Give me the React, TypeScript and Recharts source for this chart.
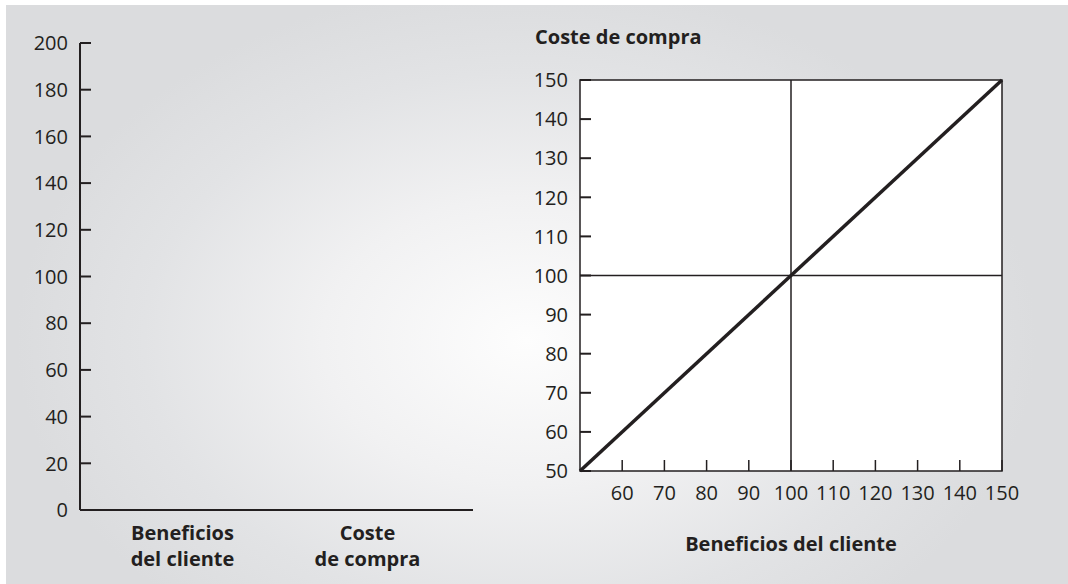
import React from 'react';
import {
    BarChart,
    Bar,
    LineChart,
    Line,
    XAxis,
    YAxis,
    CartesianGrid,
    ReferenceArea,
    ReferenceLine
} from 'recharts';

// left panel: empty bar chart
const barCategories = ['Beneficios del cliente', 'Coste de compra'];
const barCategoryLines = [['Beneficios', 'del cliente'], ['Coste', 'de compra']];
const barValues = [0, 0];
const barTicks = [0, 20, 40, 60, 80, 100, 120, 140, 160, 180, 200];

// right panel: cost vs. benefit line
const benefitValues = [50, 100, 150];
const costValues = [50, 100, 150];
const costTicks = [50, 60, 70, 80, 90, 100, 110, 120, 130, 140, 150];
const benefitTicks = [60, 70, 80, 90, 100, 110, 120, 130, 140, 150];

const INK = '#231f20';
const FONT = '"Open Sans", "Noto Sans", sans-serif';
const TICK_MARGIN = 12;
const TICK_LEN = 11;

const barData = barCategories.map((name, i) => ({ name, value: barValues[i] }));
const lineData = benefitValues.map((b, i) => ({ benefit: b, cost: costValues[i] }));

const LeftTick = (props: any) => {
    const { x, y, payload } = props;
    const ax = x + TICK_MARGIN;
    return (
        <g>
            <line x1={ax} x2={ax + TICK_LEN} y1={y} y2={y} stroke={INK} strokeWidth={2} />
            <text x={x} y={y} dy="0.36em" textAnchor="end" fill={INK} fontSize={20} fontWeight={500} fontFamily={FONT}>
                {payload.value}
            </text>
        </g>
    );
};

const CategoryTick = (props: any) => {
    const { x, y, index } = props;
    const lines = barCategoryLines[index] || [];
    return (
        <text x={x} y={y} textAnchor="middle" fill={INK} fontSize={20} fontWeight={700} fontFamily={FONT}>
            {lines.map((l, i) => (
                <tspan key={i} x={x} dy={i === 0 ? 30 : 26}>{l}</tspan>
            ))}
        </text>
    );
};

const BottomTick = (props: any) => {
    const { x, y, payload } = props;
    const ay = y - 15;
    return (
        <g>
            <line x1={x} x2={x} y1={ay} y2={ay - TICK_LEN} stroke={INK} strokeWidth={1.5} />
            <text x={x} y={y} dy="0.71em" textAnchor="middle" fill={INK} fontSize={20} fontWeight={500} fontFamily={FONT}>
                {payload.value}
            </text>
        </g>
    );
};

export default function App() {
    return (
        <div style={{ position: 'absolute', left: 0, top: 0, width: 1068, height: 584, background: '#fff', fontFamily: FONT }}>
            <div
                style={{
                    position: 'absolute',
                    left: 6,
                    top: 5,
                    width: 1062,
                    height: 579,
                    background: 'radial-gradient(ellipse 48% 62% at 49% 58%, #fdfdfd 0%, #f1f1f2 40%, #e2e3e5 75%, #dbdcde 100%)'
                }}
            />

            {/* left chart */}
            <div style={{ position: 'absolute', left: 0, top: 0 }}>
                <BarChart width={540} height={584} data={barData} margin={{ top: 43, right: 67, bottom: 0, left: 0 }}>
                    <XAxis
                        dataKey="name"
                        height={74}
                        axisLine={{ stroke: INK, strokeWidth: 2 }}
                        tickLine={false}
                        tickSize={0}
                        tickMargin={0}
                        padding={{ left: 10, right: 13 }}
                        interval={0}
                        tick={<CategoryTick />}
                    />
                    <YAxis
                        type="number"
                        width={80}
                        domain={[0, 200]}
                        allowDataOverflow
                        ticks={barTicks}
                        interval={0}
                        axisLine={{ stroke: INK, strokeWidth: 2 }}
                        tickLine={false}
                        tickSize={0}
                        tickMargin={TICK_MARGIN}
                        tick={<LeftTick />}
                    />
                    <Bar dataKey="value" fill={INK} isAnimationActive={false} />
                </BarChart>
            </div>

            {/* right chart */}
            <div
                style={{
                    position: 'absolute',
                    left: 535,
                    top: 23,
                    fontSize: 20,
                    lineHeight: '28px',
                    fontWeight: 700,
                    color: INK
                }}
            >
                Coste de compra
            </div>
            <div style={{ position: 'absolute', left: 500, top: 0 }}>
                <LineChart width={568} height={584} data={lineData} margin={{ top: 80, right: 66, bottom: 0, left: 0 }}>
                    <CartesianGrid horizontal={false} vertical={false} fill="#ffffff" />
                    <XAxis
                        type="number"
                        dataKey="benefit"
                        domain={[50, 150]}
                        ticks={benefitTicks}
                        interval={0}
                        height={113}
                        axisLine={false}
                        tickLine={false}
                        tickSize={0}
                        tickMargin={15}
                        tick={<BottomTick />}
                        label={{
                            value: 'Beneficios del cliente',
                            position: 'insideBottom',
                            offset: 33,
                            fill: INK,
                            fontSize: 20,
                            fontWeight: 700,
                            fontFamily: FONT
                        }}
                    />
                    <YAxis
                        type="number"
                        width={80}
                        domain={[50, 150]}
                        ticks={costTicks}
                        interval={0}
                        axisLine={false}
                        tickLine={false}
                        tickSize={0}
                        tickMargin={TICK_MARGIN}
                        tick={<LeftTick />}
                    />
                    <ReferenceLine x={100} stroke={INK} strokeWidth={1.5} />
                    <ReferenceLine y={100} stroke={INK} strokeWidth={1.5} />
                    <ReferenceArea x1={50} x2={150} y1={50} y2={150} fill="none" fillOpacity={0} stroke={INK} strokeWidth={1.5} strokeOpacity={1} />
                    <Line
                        type="linear"
                        dataKey="cost"
                        stroke={INK}
                        strokeWidth={3.5}
                        dot={false}
                        activeDot={false}
                        isAnimationActive={false}
                    />
                </LineChart>
            </div>
        </div>
    );
}
